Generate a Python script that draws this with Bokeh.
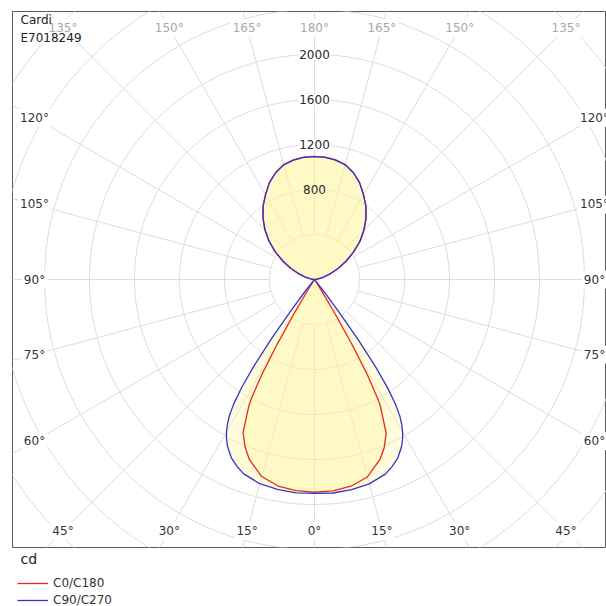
import numpy as np
from bokeh.plotting import figure
from bokeh.layouts import column
from bokeh.models import Range1d, Legend, LegendItem, Label, ColumnDataSource
from bokeh.core.properties import value
from bokeh.embed import file_html
from bokeh.resources import INLINE

# ---------------- data (luminous intensity, cd) ----------------
GAMMA = [0, 5, 10, 15, 20, 22.5, 25, 27.5, 28, 29, 30, 31, 32, 33, 34, 35, 36, 37, 38, 39, 40,
         45, 50, 55, 60, 65, 70, 75, 80, 85,
         90, 95, 100, 105, 110, 115, 120, 125, 130, 135, 140, 145, 150, 155, 160, 165, 170, 175, 180]

C0 = [1890, 1886, 1866, 1817, 1702, 1618, 1508, 1268, 1192, 975, 665, 345, 125, 32, 6, 0, 0, 0, 0, 0, 0,
      0, 0, 0, 0, 0, 0, 0, 0, 0,
      0, 14, 45, 90, 152, 235, 325, 425, 530, 625, 715, 798, 872, 950, 1012, 1058, 1080, 1092, 1095]
C180 = [1890, 1884, 1864, 1813, 1698, 1612, 1502, 1262, 1188, 965, 655, 335, 115, 28, 4, 0, 0, 0, 0, 0, 0,
        0, 0, 0, 0, 0, 0, 0, 0, 0,
        0, 14, 45, 90, 152, 235, 325, 425, 530, 625, 715, 798, 872, 950, 1012, 1058, 1080, 1092, 1095]
C90 = [1900, 1905, 1896, 1881, 1841, 1801, 1751, 1676, 1656, 1616, 1566, 1506, 1432, 1322, 1162, 945, 655, 365, 162, 52, 0,
       0, 0, 0, 0, 0, 0, 0, 0, 0,
       0, 12, 40, 85, 148, 230, 320, 420, 525, 620, 710, 795, 870, 948, 1010, 1055, 1078, 1090, 1093]
C270 = [1900, 1904, 1894, 1879, 1839, 1799, 1749, 1674, 1654, 1614, 1564, 1504, 1428, 1318, 1158, 935, 645, 355, 158, 48, 0,
        0, 0, 0, 0, 0, 0, 0, 0, 0,
        0, 12, 40, 85, 148, 230, 320, 420, 525, 620, 710, 795, 870, 948, 1010, 1055, 1078, 1090, 1093]

SERIES_NAMES = ["C0/C180", "C90/C270"]
RINGS = [400, 800, 1200, 1600, 2000, 2400, 2800, 3200, 3600, 4000]
RING_LABELS = [800, 1200, 1600, 2000]
ANGLE_TICKS = [0, 15, 30, 45, 60, 75, 90, 105, 120, 135, 150, 165, 180]
TITLE_LINES = ["Cardi", "E7018249"]
UNIT = "cd"

# ---------------- layout ----------------
W = 606
H1, H2 = 548, 58                  # chart figure / legend strip
BL, BR, BT, BB = 12, 0, 11, 1
FW, FH = W - BL - BR, H1 - BT - BB
CX, CY = 302, 268                 # pole position in frame pixels (from left / top)
PX_PER_CD = 45.0 / 400.0
CD = 1.0 / PX_PER_CD              # cd per pixel

x0, x1 = -CX * CD, (FW - CX) * CD
y0, y1 = -(FH - CY) * CD, CY * CD

RED = "#e8281e"
BLUE = "#3434cc"
GRID = "#dcdcdc"
FILL = "#fff59a"
INSIDE_BG = "#fff9c6"
FONT = "DejaVu Sans"

p = figure(width=W, height=H1, x_range=Range1d(x0, x1), y_range=Range1d(y0, y1),
           output_backend="svg", toolbar_location=None,
           x_axis_location=None, y_axis_location=None,
           min_border_left=BL, min_border_right=BR, min_border_top=BT, min_border_bottom=BB)
p.xgrid.visible = False
p.ygrid.visible = False
p.outline_line_color = "#5a5a5a"
p.outline_line_width = 1
p.background_fill_color = "white"
p.border_fill_color = "white"

# ---- polar grid ----
th = np.linspace(0, 2 * np.pi, 361)
p.multi_line(xs=[list(r * np.cos(th)) for r in RINGS], ys=[list(r * np.sin(th)) for r in RINGS],
             line_color=GRID, line_width=1)
rad_in, rad_out = RINGS[0], 6000
angs = np.radians(np.arange(0, 360, 15))
p.multi_line(xs=[[rad_in * np.sin(a), rad_out * np.sin(a)] for a in angs],
             ys=[[-rad_in * np.cos(a), -rad_out * np.cos(a)] for a in angs],
             line_color=GRID, line_width=1)


def curve(right, left):
    g = np.radians(GAMMA)
    r = np.array(right, float)
    l = np.array(left, float)
    xr, yr = r * np.sin(g), -r * np.cos(g)
    xl, yl = -l[::-1] * np.sin(g[::-1]), -l[::-1] * np.cos(g[::-1])
    return np.concatenate([xr, xl]), np.concatenate([yr, yl])


rx, ry = curve(C0, C180)
bx, by = curve(C90, C270)

p.patch(bx, by, fill_color=FILL, fill_alpha=0.35, line_color=None)
p.patch(rx, ry, fill_color=FILL, fill_alpha=0.35, line_color=None)

# ---- ring value labels ----
upper_extent = max(C0[-1], C180[-1], C90[-1], C270[-1])
ring_bg = [INSIDE_BG if v < upper_extent else "white" for v in RING_LABELS]
ring_src = ColumnDataSource(dict(x=[0] * len(RING_LABELS), y=RING_LABELS,
                                 t=[str(v) for v in RING_LABELS], bg=ring_bg))
p.text(x="x", y="y", text="t", source=ring_src,
       text_font=value(FONT), text_font_size="12px", text_color="#2a2a2a",
       text_align="center", text_baseline="middle",
       background_fill_color="bg", padding=1)

p.line(rx, ry, line_color=RED, line_width=1.3, line_join="round")
p.line(bx, by, line_color=BLUE, line_width=1.3, line_join="round")

# ---- angle labels at the frame edge ----
LX, LY = 280 * CD, 251.5 * CD
lab_x, lab_y, lab_t, lab_c = [], [], [], []
for side in (-1, 1):
    for gdeg in ANGLE_TICKS:
        if side == -1 and gdeg in (0, 180):
            continue
        g = np.radians(gdeg)
        sx, sy = side * np.sin(g), -np.cos(g)
        t = min(LX / abs(sx) if abs(sx) > 1e-9 else 1e9, LY / abs(sy) if abs(sy) > 1e-9 else 1e9)
        lab_x.append(t * sx)
        lab_y.append(t * sy)
        lab_t.append(f"{gdeg}°")
        lab_c.append("#a8a8a8" if gdeg >= 135 else "#333333")
src = ColumnDataSource(dict(x=lab_x, y=lab_y, t=lab_t, c=lab_c))
p.text(x="x", y="y", text="t", text_color="c", source=src,
       text_font=value(FONT), text_font_size="12px",
       text_align="center", text_baseline="middle",
       background_fill_color="white", padding=2)

# ---- title lines ----
for i, line in enumerate(TITLE_LINES):
    p.add_layout(Label(x=x0 + 8 * CD, y=y1 - (8 + 18.2 * i) * CD, text=line,
                       text_font=FONT, text_font_size="12px", text_color="#222222",
                       text_baseline="alphabetic", text_align="left"))

# ---------------- legend strip below the frame ----------------
q = figure(width=W, height=H2, x_range=Range1d(0, FW), y_range=Range1d(0, H2),
           output_backend="svg", toolbar_location=None,
           x_axis_location=None, y_axis_location=None,
           min_border_left=BL, min_border_right=0, min_border_top=0, min_border_bottom=0)
q.xgrid.visible = False
q.ygrid.visible = False
q.outline_line_color = None
q.background_fill_color = "white"
q.border_fill_color = "white"

# hidden copies of the two curves, used only as legend keys
red_key = q.line(rx, ry, line_color=RED, line_width=1.3, visible=False)
blue_key = q.line(bx, by, line_color=BLUE, line_width=1.3, visible=False)

q.add_layout(Label(x=8, y=48, text=UNIT, text_font=FONT, text_font_size="14px",
                   text_color="#222222", text_baseline="alphabetic", text_align="left"))

legend = Legend(items=[LegendItem(label=SERIES_NAMES[0], renderers=[red_key]),
                       LegendItem(label=SERIES_NAMES[1], renderers=[blue_key])],
                location=(5, -1), orientation="vertical",
                label_text_font=FONT, label_text_font_size="12px", label_text_color="#333333",
                label_standoff=5, label_height=14, glyph_height=14, glyph_width=31, spacing=3,
                padding=0, margin=0, border_line_color=None, background_fill_alpha=0,
                inactive_fill_alpha=0)
q.add_layout(legend)

layout = column(p, q, spacing=0)
open("out.html", "w").write(file_html(layout, INLINE))
